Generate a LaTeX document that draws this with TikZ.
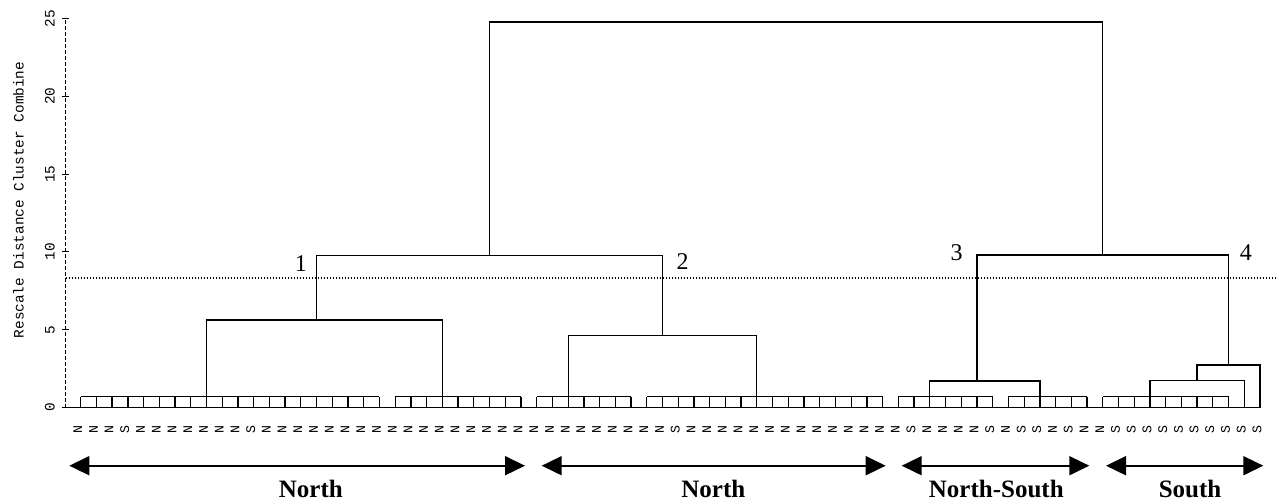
\documentclass[tikz,border=0pt]{standalone}
\usepackage{fontspec}
\setmainfont{Liberation Serif}
\newfontfamily\monofam{Liberation Mono}
\usetikzlibrary{arrows.meta}
\begin{document}
\begin{tikzpicture}[x=0.5pt,y=-0.5pt,
  den/.style={line width=0.65pt},
  axisline/.style={line width=0.5pt, dash pattern=on 2pt off 1pt},
  cutline/.style={line width=0.6pt, dash pattern=on 0.6pt off 0.9pt},
  tickmark/.style={line width=0.5pt},
  leaflab/.style={font=\monofam\fontsize{6.6}{6.6}\selectfont, rotate=90, inner sep=0pt},
  axlab/.style={font=\monofam\fontsize{7.2}{7.2}\selectfont, rotate=90, inner sep=0pt},
  clab/.style={font=\fontsize{12}{12}\selectfont, inner sep=0pt},
  region/.style={font=\bfseries\fontsize{12.5}{12.5}\selectfont, inner sep=0pt, anchor=base},
  span/.style={line width=0.85pt, {Triangle[length=10pt,width=9.5pt]}-{Triangle[length=10pt,width=9.5pt]}},
]
\fill[white] (0,0) rectangle (1278,500);
\useasboundingbox (0,0) rectangle (1278,500);

% leaves
\foreach \i in {0,...,75}{
  \coordinate (L\i) at ({80.7+15.724*\i},407.5);
  \coordinate (T\i) at ({80.7+15.724*\i},396.6);
}
\foreach \t [count=\j from 0] in {N,N,N,S,N,N,N,N,N,N,N,S,%
N,N,N,N,N,N,N,N,N,N,N,N,N,%
N,N,N,N,N,N,N,N,N,N,N,N,N,%
S,%
N,N,N,N,N,N,N,N,N,N,N,N,N,N,%
S,N,N,N,N,S,N,S,S,N,S,N,N,%
S,S,S,S,S,S,S,S,S,S}{
  \node[leaflab] (n\j) at ({80.7+15.724*\j-3},429.5) {\t};
}

% axis
\coordinate (ax0) at (65.7,407.5);
\coordinate (ax25) at (65.7,{407.5-15.56*25});
\draw[axisline] (ax0) -- (ax25);
\foreach \v in {0,5,10,15,20,25}{
  \draw[tickmark] (62.2,{407.5-15.56*\v}) -- (69.2,{407.5-15.56*\v});
  \node[axlab] (t\v) at (50,{407.5-15.56*\v}) {\v};
}
\node[axlab] (title) at (18.5,200) {Rescale Distance Cluster Combine};

% baseline
\draw[den] (ax0) -- (L75);

% combs
\foreach \a/\b in {0/19,20/28,29/35,36/51,52/58,59/64,65/73}{
  \draw[den] (T\a) -- (T\b);
  \foreach \i in {\a,...,\b} \draw[den] (L\i) -- (T\i);
}

% merge points
\coordinate (m1) at ({80.7+15.724*15},{407.5-15.56*5.62});
\coordinate (m2) at ({80.7+15.724*37},{407.5-15.56*4.61});
\coordinate (c12) at ({80.7+15.724*26},{407.5-15.56*9.76});
\coordinate (m3) at ({80.7+15.724*57},{407.5-15.56*1.70});
\coordinate (m4a) at ({80.7+15.724*71},{407.5-15.56*1.72});
\coordinate (m4b) at ({80.7+15.724*73},{407.5-15.56*2.73});
\coordinate (c34) at ({80.7+15.724*65},{407.5-15.56*9.80});
\coordinate (top) at ({80.7+15.724*45},{407.5-15.56*24.78});

\draw[den] (T8) |- (m1) -| (T23);
\draw[den] (T31) |- (m2) -| (T43);
\draw[den] (m1) |- (c12) -| (m2);
\draw[den] (T54) |- (m3) -| (T61);
\draw[den] (T68) |- (m4a) -| (L74);
\draw[den] (m4a) |- (m4b) -| (L75);
\draw[den] (m3) |- (c34) -| (m4b);
\draw[den] (c12) |- (top) -| (c34);

% cut line
\coordinate (cutL) at (65.7,278);
\coordinate (cutR) at (1278,278);
\draw[cutline] (cutL) -- (cutR);

% cluster numbers
\node[clab] (k1) at (300.8,263.5) {1};
\node[clab] (k2) at (682.5,261.7) {2};
\node[clab] (k3) at (956.7,253) {3};
\node[clab] (k4) at (1245.8,253) {4};

% region arrows
\coordinate (a1l) at (69.3,465.7);  \coordinate (a1r) at (525,465.7);
\coordinate (a2l) at (541.7,465.7); \coordinate (a2r) at (885.7,465.7);
\coordinate (a3l) at (901.7,465.7); \coordinate (a3r) at (1089.3,465.7);
\coordinate (a4l) at (1106,465.7);  \coordinate (a4r) at (1263.3,465.7);
\draw[span] (a1l) -- (a1r);
\draw[span] (a2l) -- (a2r);
\draw[span] (a3l) -- (a3r);
\draw[span] (a4l) -- (a4r);

\node[region] (r1) at (310.8,497) {North};
\node[region] (r2) at (713.3,497) {North};
\node[region] (r3) at (996.3,497) {North-South};
\node[region] (r4) at (1190,497) {South};
\end{tikzpicture}
\end{document}
